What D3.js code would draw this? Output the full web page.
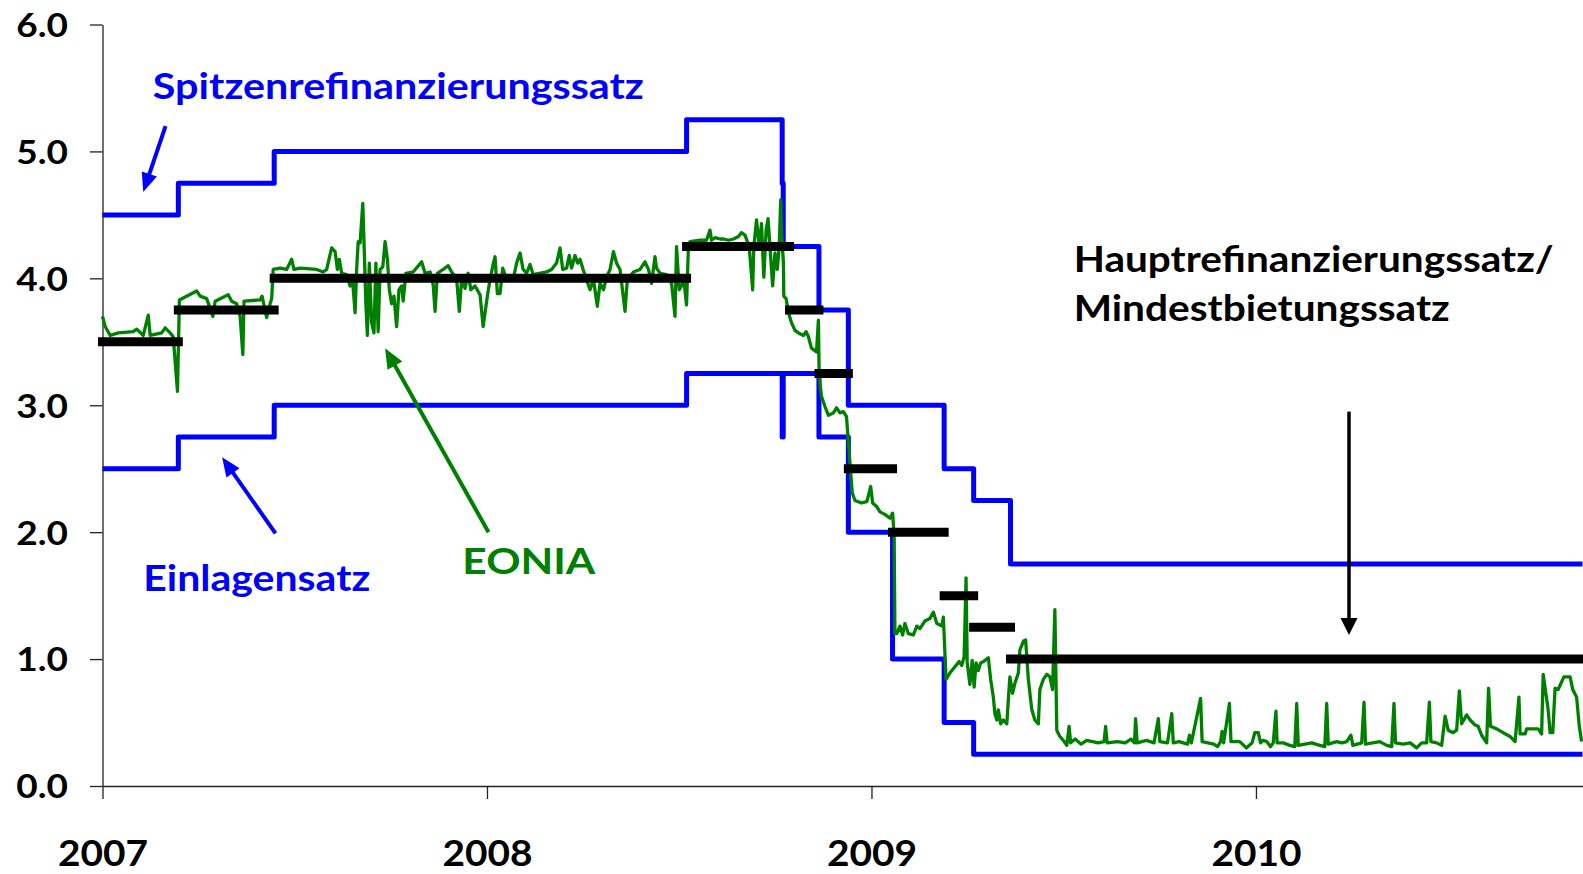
<!DOCTYPE html>
<html>
<head>
<meta charset="utf-8">
<script src="https://cdn.jsdelivr.net/npm/d3@7"></script>
<style>
  body { margin: 0; background: #fff; }
  #chart svg { display: block; font-family: Lato, "Open Sans", sans-serif; font-weight: 700; }
</style>
</head>
<body>
<div id="chart"></div>
<script>
// Achsen
const yearTicks = [2007, 2008, 2009, 2010];
const rateTicks = [0, 1, 2, 3, 4, 5, 6];
const endDate = "2010-11-07";

// Spitzenrefinanzierungssatz (Tag der Änderung, Satz in %)
const mlfDates = ["2007-01-01", "2007-03-14", "2007-06-13", "2008-07-09", "2008-10-08", "2008-10-09",
                  "2008-11-12", "2008-12-10", "2009-03-11", "2009-04-08", "2009-05-13"];
const mlfRates = [4.50, 4.75, 5.00, 5.25, 4.75, 4.25, 3.75, 3.00, 2.50, 2.25, 1.75];

// Einlagensatz
const depDates = ["2007-01-01", "2007-03-14", "2007-06-13", "2008-07-09", "2008-10-08", "2008-10-09",
                  "2008-11-12", "2008-12-10", "2009-01-21", "2009-03-11", "2009-04-08"];
const depRates = [2.50, 2.75, 3.00, 3.25, 2.75, 3.25, 2.75, 2.00, 1.00, 0.50, 0.25];

// Hauptrefinanzierungssatz / Mindestbietungssatz
const mroFrom = ["2007-01-01", "2007-03-14", "2007-06-13", "2008-07-09", "2008-10-15", "2008-11-12",
                 "2008-12-10", "2009-01-21", "2009-03-11", "2009-04-08", "2009-05-13"];
const mroTo = ["2007-03-14", "2007-06-13", "2008-07-09", "2008-10-15", "2008-11-12", "2008-12-10",
               "2009-01-21", "2009-03-11", "2009-04-08", "2009-05-13", endDate];
const mroRates = [3.50, 3.75, 4.00, 4.25, 3.75, 3.25, 2.50, 2.00, 1.50, 1.25, 1.00];

// EONIA (Jahr als Dezimalzahl, Satz in %)
const eonia = [
  [2007.000, 3.70], [2007.007, 3.62], [2007.020, 3.55], [2007.041, 3.57], [2007.080, 3.58], [2007.089, 3.60],
  [2007.106, 3.55], [2007.119, 3.71], [2007.124, 3.55], [2007.154, 3.57], [2007.163, 3.61], [2007.176, 3.57],
  [2007.184, 3.54], [2007.195, 3.11], [2007.200, 3.83], [2007.245, 3.90], [2007.254, 3.86], [2007.271, 3.84],
  [2007.287, 3.70], [2007.293, 3.82], [2007.327, 3.87], [2007.336, 3.82], [2007.349, 3.80], [2007.358, 3.70],
  [2007.365, 3.40], [2007.368, 3.82], [2007.410, 3.83], [2007.415, 3.86], [2007.420, 3.79], [2007.427, 3.69],
  [2007.431, 3.75], [2007.440, 3.84], [2007.444, 4.07], [2007.462, 4.08], [2007.479, 4.07], [2007.492, 4.15],
  [2007.498, 4.07], [2007.514, 4.08], [2007.557, 4.07], [2007.574, 4.05], [2007.583, 4.07], [2007.596, 4.24],
  [2007.605, 4.21], [2007.611, 4.07], [2007.616, 4.15], [2007.622, 4.04], [2007.635, 4.03], [2007.644, 3.94],
  [2007.651, 3.96], [2007.657, 3.73], [2007.661, 4.07], [2007.665, 4.29], [2007.670, 4.28], [2007.677, 4.59],
  [2007.680, 4.30], [2007.685, 3.80], [2007.689, 3.55], [2007.694, 4.12], [2007.700, 3.65], [2007.706, 3.57],
  [2007.711, 4.12], [2007.717, 3.58], [2007.722, 4.07], [2007.729, 4.09], [2007.735, 4.29], [2007.741, 4.15],
  [2007.746, 3.91], [2007.752, 3.80], [2007.758, 3.86], [2007.765, 3.62], [2007.771, 3.91], [2007.778, 3.94],
  [2007.782, 3.82], [2007.789, 4.04], [2007.808, 4.05], [2007.830, 4.13], [2007.839, 4.04], [2007.852, 4.05],
  [2007.860, 3.95], [2007.865, 3.74], [2007.871, 4.04], [2007.886, 4.07], [2007.899, 4.10], [2007.908, 4.05],
  [2007.921, 4.00], [2007.928, 3.74], [2007.934, 3.99], [2007.943, 3.92], [2007.951, 4.04], [2007.958, 3.91],
  [2007.969, 3.94], [2007.982, 3.87], [2007.990, 3.62], [2008.001, 3.86], [2008.008, 3.99], [2008.016, 4.11],
  [2008.021, 4.17], [2008.027, 3.88], [2008.034, 3.88], [2008.041, 4.08], [2008.051, 3.99], [2008.068, 3.99],
  [2008.077, 4.12], [2008.086, 4.20], [2008.094, 4.07], [2008.103, 4.04], [2008.112, 4.11], [2008.120, 4.03],
  [2008.155, 4.05], [2008.168, 4.07], [2008.181, 4.12], [2008.190, 4.24], [2008.197, 4.07], [2008.207, 4.08],
  [2008.214, 4.18], [2008.220, 4.08], [2008.229, 4.18], [2008.236, 4.12], [2008.242, 4.15], [2008.250, 4.07],
  [2008.259, 3.99], [2008.268, 3.91], [2008.277, 3.99], [2008.287, 3.78], [2008.294, 3.96], [2008.303, 3.91],
  [2008.311, 4.01], [2008.320, 4.07], [2008.329, 4.21], [2008.337, 4.12], [2008.346, 4.07], [2008.359, 3.74],
  [2008.365, 3.99], [2008.381, 4.05], [2008.398, 4.07], [2008.411, 4.13], [2008.420, 4.07], [2008.428, 3.96],
  [2008.437, 4.17], [2008.441, 4.08], [2008.450, 4.04], [2008.467, 4.03], [2008.480, 3.96], [2008.489, 3.70],
  [2008.493, 4.25], [2008.500, 3.91], [2008.506, 3.94], [2008.512, 3.99], [2008.519, 3.79], [2008.524, 4.26],
  [2008.528, 4.29], [2008.554, 4.30], [2008.571, 4.30], [2008.580, 4.38], [2008.584, 4.30], [2008.593, 4.32],
  [2008.606, 4.31], [2008.615, 4.31], [2008.628, 4.30], [2008.641, 4.31], [2008.654, 4.33], [2008.662, 4.36],
  [2008.671, 4.34], [2008.682, 4.25], [2008.691, 3.91], [2008.694, 4.25], [2008.701, 4.46], [2008.708, 4.25],
  [2008.714, 4.43], [2008.720, 4.01], [2008.726, 4.38], [2008.731, 4.47], [2008.736, 4.25], [2008.743, 3.94],
  [2008.749, 4.20], [2008.755, 4.07], [2008.760, 4.25], [2008.764, 4.62], [2008.766, 4.36], [2008.771, 4.12],
  [2008.772, 3.86], [2008.778, 3.84], [2008.784, 3.73], [2008.792, 3.65], [2008.801, 3.59], [2008.810, 3.57],
  [2008.823, 3.55], [2008.830, 3.58], [2008.836, 3.54], [2008.844, 3.45], [2008.857, 3.42], [2008.862, 3.67],
  [2008.864, 3.23], [2008.870, 3.07], [2008.879, 2.99], [2008.888, 2.92], [2008.901, 2.94], [2008.909, 2.98],
  [2008.918, 2.94], [2008.927, 2.95], [2008.935, 2.91], [2008.950, 2.31], [2008.957, 2.25], [2008.974, 2.23],
  [2008.988, 2.24], [2008.998, 2.36], [2009.003, 2.23], [2009.014, 2.20], [2009.022, 2.16], [2009.035, 2.14],
  [2009.048, 2.11], [2009.055, 2.15], [2009.059, 1.97], [2009.061, 1.20], [2009.066, 1.20], [2009.074, 1.26],
  [2009.081, 1.19], [2009.087, 1.28], [2009.096, 1.20], [2009.109, 1.19], [2009.118, 1.26], [2009.126, 1.24],
  [2009.139, 1.30], [2009.152, 1.32], [2009.161, 1.37], [2009.170, 1.28], [2009.183, 1.26], [2009.187, 1.33],
  [2009.194, 0.84], [2009.204, 0.89], [2009.217, 0.94], [2009.228, 0.98], [2009.235, 0.95], [2009.241, 1.02],
  [2009.246, 1.64], [2009.249, 0.97], [2009.256, 0.80], [2009.262, 0.99], [2009.267, 0.78], [2009.272, 0.97],
  [2009.278, 0.91], [2009.284, 0.97], [2009.291, 0.98], [2009.304, 1.01], [2009.310, 0.84], [2009.317, 0.70],
  [2009.321, 0.57], [2009.326, 0.52], [2009.330, 0.60], [2009.336, 0.49], [2009.343, 0.52], [2009.352, 0.49],
  [2009.356, 0.68], [2009.360, 0.86], [2009.367, 0.73], [2009.373, 0.81], [2009.382, 0.89], [2009.386, 1.07],
  [2009.395, 1.14], [2009.401, 1.15], [2009.408, 0.84], [2009.417, 0.60], [2009.425, 0.52], [2009.434, 0.49],
  [2009.438, 0.76], [2009.447, 0.84], [2009.456, 0.88], [2009.464, 0.86], [2009.471, 0.76], [2009.477, 1.39],
  [2009.482, 0.44], [2009.490, 0.39], [2009.499, 0.36], [2009.508, 0.32], [2009.514, 0.47], [2009.518, 0.34],
  [2009.530, 0.37], [2009.545, 0.33], [2009.560, 0.36], [2009.575, 0.35], [2009.590, 0.34], [2009.605, 0.35],
  [2009.609, 0.47], [2009.613, 0.34], [2009.640, 0.35], [2009.660, 0.34], [2009.675, 0.37], [2009.684, 0.34],
  [2009.687, 0.53], [2009.691, 0.34], [2009.715, 0.36], [2009.735, 0.34], [2009.746, 0.53], [2009.750, 0.35],
  [2009.770, 0.34], [2009.781, 0.57], [2009.785, 0.34], [2009.800, 0.35], [2009.822, 0.33], [2009.827, 0.40],
  [2009.832, 0.34], [2009.856, 0.69], [2009.860, 0.35], [2009.890, 0.33], [2009.900, 0.31], [2009.908, 0.35],
  [2009.912, 0.43], [2009.916, 0.34], [2009.931, 0.65], [2009.935, 0.35], [2009.958, 0.35], [2009.975, 0.30],
  [2009.990, 0.34], [2009.997, 0.42], [2010.006, 0.42], [2010.012, 0.34], [2010.019, 0.36], [2010.028, 0.35],
  [2010.038, 0.31], [2010.045, 0.34], [2010.052, 0.59], [2010.055, 0.34], [2010.071, 0.34], [2010.088, 0.32],
  [2010.101, 0.31], [2010.106, 0.65], [2010.110, 0.32], [2010.145, 0.34], [2010.166, 0.32], [2010.179, 0.31],
  [2010.184, 0.65], [2010.188, 0.33], [2010.210, 0.35], [2010.223, 0.34], [2010.236, 0.35], [2010.247, 0.40],
  [2010.252, 0.32], [2010.275, 0.34], [2010.281, 0.66], [2010.285, 0.33], [2010.322, 0.35], [2010.340, 0.32],
  [2010.353, 0.31], [2010.359, 0.65], [2010.363, 0.34], [2010.383, 0.33], [2010.401, 0.34], [2010.418, 0.30],
  [2010.431, 0.34], [2010.444, 0.34], [2010.451, 0.66], [2010.455, 0.35], [2010.470, 0.34], [2010.483, 0.32],
  [2010.492, 0.55], [2010.500, 0.44], [2010.513, 0.42], [2010.522, 0.44], [2010.529, 0.75], [2010.535, 0.49],
  [2010.548, 0.56], [2010.557, 0.52], [2010.570, 0.48], [2010.578, 0.47], [2010.587, 0.40], [2010.600, 0.34],
  [2010.605, 0.77], [2010.610, 0.47], [2010.626, 0.45], [2010.643, 0.42], [2010.661, 0.39], [2010.674, 0.35],
  [2010.684, 0.70], [2010.687, 0.41], [2010.700, 0.41], [2010.704, 0.45], [2010.721, 0.45], [2010.734, 0.45],
  [2010.743, 0.41], [2010.747, 0.88], [2010.754, 0.73], [2010.760, 0.60], [2010.765, 0.42], [2010.772, 0.42],
  [2010.778, 0.77], [2010.786, 0.76], [2010.795, 0.82], [2010.801, 0.86], [2010.817, 0.86], [2010.824, 0.76],
  [2010.834, 0.70], [2010.841, 0.47], [2010.847, 0.35]
];

// Datum -> Jahr als Dezimalzahl
function toYear(s) {
    const d = new Date(s + "T00:00:00Z");
    const yr = d.getUTCFullYear();
    const start = Date.UTC(yr, 0, 1), next = Date.UTC(yr + 1, 0, 1);
    return yr + (d - start) / (next - start);
}

const width = 1583, height = 874;
const blue = "#0000ff", green = "#008000";

const svg = d3.select("#chart").append("svg")
    .attr("width", width)
    .attr("height", height);

const x = d3.scaleLinear()
    .domain([2007, toYear(endDate)])
    .range([102.5, 1582.5]);

const y = d3.scaleLinear()
    .domain([0, 6])
    .range([786, 24.5]);

// Achsen
const yAxis = svg.append("g")
    .attr("transform", `translate(${x(2007)},0)`)
    .call(d3.axisLeft(y).tickValues(rateTicks).tickSize(12.5).tickSizeOuter(0)
        .tickPadding(22).tickFormat(d3.format(".1f")));

const xAxis = svg.append("g")
    .attr("transform", `translate(0,${y(0)})`)
    .call(d3.axisBottom(x).tickValues(yearTicks).tickSize(13).tickSizeOuter(0)
        .tickFormat(d3.format("d")));

[yAxis, xAxis].forEach(g => {
    g.selectAll("path, line").attr("stroke", "#222").attr("stroke-width", 1.3);
    g.selectAll("text").attr("fill", "#000").style("font-family", "Lato, sans-serif").style("font-weight", 700);
});
yAxis.selectAll("text").style("font-size", "33px").attr("dy", "0.36em");
xAxis.selectAll("text").style("font-size", "37px").attr("y", 80).attr("dy", 0);

// Ziffern etwas breiter, wie im Original
yAxis.selectAll("text").each(function() {
    const t = d3.select(this);
    t.attr("textLength", this.getComputedTextLength() * 1.12).attr("lengthAdjust", "spacingAndGlyphs");
});
xAxis.selectAll("text").each(function() {
    const t = d3.select(this);
    t.attr("textLength", this.getComputedTextLength() * 1.05).attr("lengthAdjust", "spacingAndGlyphs");
});

// Leitzinsen als Treppenlinien
const stepLine = d3.line()
    .x(d => x(d[0]))
    .y(d => y(d[1]))
    .curve(d3.curveStepAfter);

function stepSeries(dates, rates) {
    const pts = dates.map((d, i) => [toYear(d), rates[i]]);
    pts.push([toYear(endDate), rates[rates.length - 1]]);
    return pts;
}

[[mlfDates, mlfRates], [depDates, depRates]].forEach(([dates, rates]) => {
    svg.append("path")
        .datum(stepSeries(dates, rates))
        .attr("fill", "none")
        .attr("stroke", blue)
        .attr("stroke-width", 5)
        .attr("stroke-linejoin", "round")
        .attr("d", stepLine);
});

// EONIA
const line = d3.line()
    .x(d => x(d[0]))
    .y(d => y(d[1]));

svg.append("path")
    .datum(eonia)
    .attr("fill", "none")
    .attr("stroke", green)
    .attr("stroke-width", 3.3)
    .attr("stroke-linejoin", "round")
    .attr("d", line);

// Hauptrefinanzierungssatz als Balken
svg.append("g").selectAll("line")
    .data(mroRates)
    .join("line")
    .attr("x1", (d, i) => x(toYear(mroFrom[i])))
    .attr("x2", (d, i) => x(toYear(mroTo[i])))
    .attr("y1", d => y(d))
    .attr("y2", d => y(d))
    .attr("stroke", "#000")
    .attr("stroke-width", 9)
    .attr("stroke-linecap", "square");

// Pfeile
function arrow(from, to, color, w, headLen, headW) {
    const x1 = x(from[0]), y1 = y(from[1]), x2 = x(to[0]), y2 = y(to[1]);
    const a = Math.atan2(y2 - y1, x2 - x1);
    const bx = x2 - headLen * Math.cos(a), by = y2 - headLen * Math.sin(a);
    svg.append("line")
        .attr("x1", x1).attr("y1", y1)
        .attr("x2", bx + 2 * Math.cos(a)).attr("y2", by + 2 * Math.sin(a))
        .attr("stroke", color)
        .attr("stroke-width", w);
    const hx = headW / 2 * Math.sin(a), hy = headW / 2 * Math.cos(a);
    svg.append("path")
        .attr("d", `M${x2},${y2}L${bx + hx},${by - hy}L${bx - hx},${by + hy}Z`)
        .attr("fill", color);
}

arrow([2007.164, 5.20], [2007.106, 4.68], blue, 4, 19, 16);
arrow([2007.450, 1.99], [2007.311, 2.59], blue, 4, 19, 16);
arrow([2008.004, 2.00], [2007.735, 3.45], green, 4, 20, 17);
arrow([2010.242, 2.95], [2010.242, 1.19], "#000", 3.5, 17, 17);

// Beschriftungen
const labels = [
    { text: "Spitzenrefinanzierungssatz", at: [2007.131, 5.41], len: 491, color: blue },
    { text: "Einlagensatz", at: [2007.106, 1.54], len: 227, color: blue },
    { text: "EONIA", at: [2007.936, 1.667], len: 133, color: green },
    { text: "Hauptrefinanzierungssatz/", at: [2009.526, 4.046], len: 480, color: "#000" },
    { text: "Mindestbietungssatz", at: [2009.526, 3.664], len: 376, color: "#000" }
];

labels.forEach(l => {
    svg.append("text")
        .attr("x", x(l.at[0]))
        .attr("y", y(l.at[1]))
        .attr("fill", l.color)
        .attr("textLength", l.len)
        .attr("lengthAdjust", "spacingAndGlyphs")
        .style("font-size", "36px")
        .text(l.text);
});
</script>
</body>
</html>
